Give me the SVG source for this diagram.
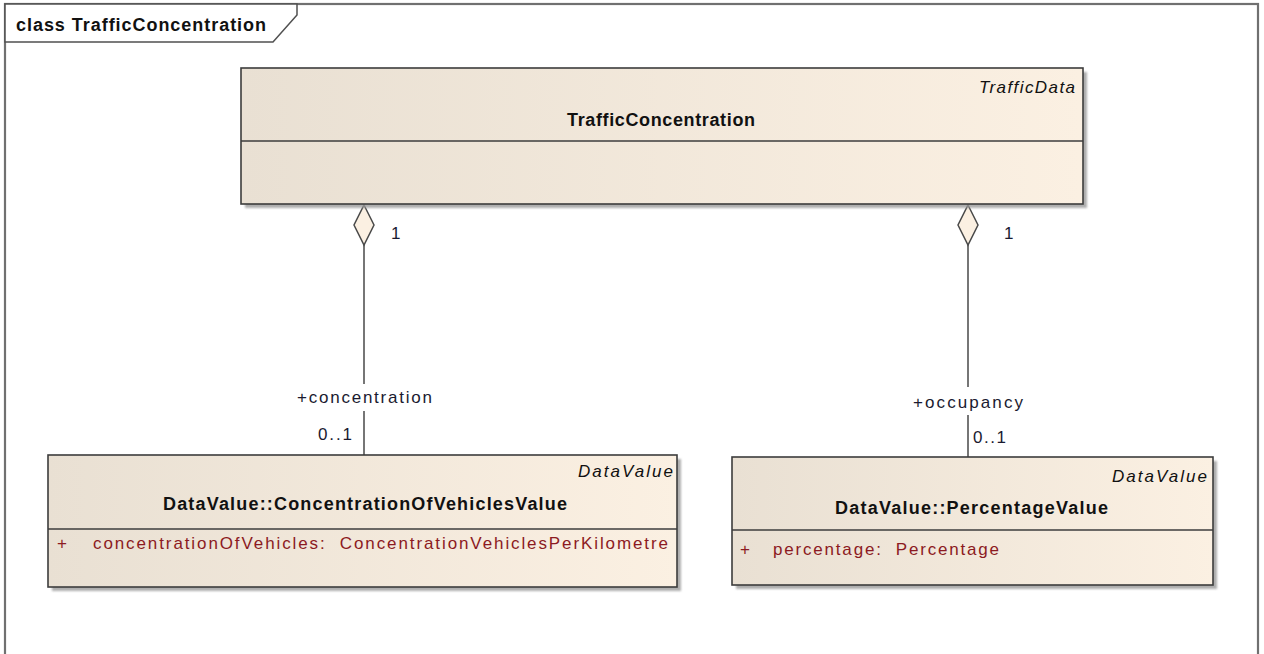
<svg xmlns="http://www.w3.org/2000/svg" width="1264" height="654" viewBox="0 0 1264 654">
  <defs>
    <linearGradient id="classFill" x1="0" y1="0" x2="1" y2="0">
      <stop offset="0" stop-color="#e9e0d3"/>
      <stop offset="1" stop-color="#fbf0e2"/>
    </linearGradient>
    <filter id="shadowBlur" x="-5%" y="-5%" width="110%" height="110%">
      <feGaussianBlur stdDeviation="1.2"/>
    </filter>
  </defs>
  <style>
    .frame { fill: none; stroke: #707070; stroke-width: 2.2; }
    .tab { fill: #ffffff; stroke: #505050; stroke-width: 1.5; }
    .box { fill: url(#classFill); stroke: #3c3c3c; stroke-width: 1.6; }
    .shadow { fill: #9a9a9a; opacity: 0.8; filter: url(#shadowBlur); }
    .divider { stroke: #3c3c3c; stroke-width: 1.5; }
    .edge { fill: none; stroke: #4a4a4a; stroke-width: 1.5; }
    .diamond { fill: #fbf0e2; stroke: #4a4a4a; stroke-width: 1.5; }
    text { font-family: "Liberation Sans", Arial, sans-serif; }
    .title { font-size: 18px; font-weight: bold; fill: #111111; }
    .name { font-size: 18px; font-weight: bold; fill: #111111; }
    .stereo { font-size: 17px; font-style: italic; fill: #111111; }
    .label { font-size: 17px; fill: #1a1a30; }
    .attr { font-size: 17px; fill: #8c1a22; }
  </style>

  <!-- diagram frame -->
  <g id="frame">
    <rect class="frame" x="5" y="4" width="1253" height="660"/>
    <path class="tab" d="M5,4 H297 V15 L273,42 H5 Z"/>
    <text class="title" x="16" y="31" textLength="250" lengthAdjust="spacing">class TrafficConcentration</text>
  </g>

  <!-- aggregation connectors -->
  <g id="connectors">
    <path class="edge" d="M364,245 V384 M364,411 V455"/>
    <polygon class="diamond" points="364,205 374,225 364,245 354,225"/>
    <text class="label" x="391" y="239">1</text>
    <text class="label" x="297" y="403" textLength="135" lengthAdjust="spacing">+concentration</text>
    <text class="label" x="318" y="440" textLength="34" lengthAdjust="spacing">0..1</text>

    <path class="edge" d="M968,245 V387 M968,415 V457"/>
    <polygon class="diamond" points="968,205 978,225 968,245 958,225"/>
    <text class="label" x="1004" y="239">1</text>
    <text class="label" x="913" y="408" textLength="110" lengthAdjust="spacing">+occupancy</text>
    <text class="label" x="973" y="443" textLength="33" lengthAdjust="spacing">0..1</text>
  </g>

  <!-- TrafficConcentration class -->
  <g id="TrafficConcentration">
    <rect class="shadow" x="245" y="72" width="842" height="136"/>
    <rect class="box" x="241" y="68" width="842" height="136"/>
    <line class="divider" x1="241" y1="141" x2="1083" y2="141"/>
    <text class="stereo" x="1075" y="93" text-anchor="end" textLength="96" lengthAdjust="spacing">TrafficData</text>
    <text class="name" x="567" y="126" textLength="188" lengthAdjust="spacing">TrafficConcentration</text>
  </g>

  <!-- ConcentrationOfVehiclesValue class -->
  <g id="ConcentrationOfVehiclesValue">
    <rect class="shadow" x="52" y="459" width="629" height="132"/>
    <rect class="box" x="48" y="455" width="629" height="132"/>
    <line class="divider" x1="48" y1="529" x2="677" y2="529"/>
    <text class="stereo" x="673" y="477" text-anchor="end" textLength="95" lengthAdjust="spacing">DataValue</text>
    <text class="name" x="163" y="510" textLength="404" lengthAdjust="spacing">DataValue::ConcentrationOfVehiclesValue</text>
    <text class="attr" x="57" y="549">+</text>
    <text class="attr" x="93" y="549" textLength="575" lengthAdjust="spacing" xml:space="preserve">concentrationOfVehicles:  ConcentrationVehiclesPerKilometre</text>
  </g>

  <!-- PercentageValue class -->
  <g id="PercentageValue">
    <rect class="shadow" x="736" y="461" width="481" height="128"/>
    <rect class="box" x="732" y="457" width="481" height="128"/>
    <line class="divider" x1="732" y1="530" x2="1213" y2="530"/>
    <text class="stereo" x="1207" y="482" text-anchor="end" textLength="95" lengthAdjust="spacing">DataValue</text>
    <text class="name" x="835" y="514" textLength="273" lengthAdjust="spacing">DataValue::PercentageValue</text>
    <text class="attr" x="740" y="555">+</text>
    <text class="attr" x="773" y="555" textLength="226" lengthAdjust="spacing" xml:space="preserve">percentage:  Percentage</text>
  </g>
</svg>
